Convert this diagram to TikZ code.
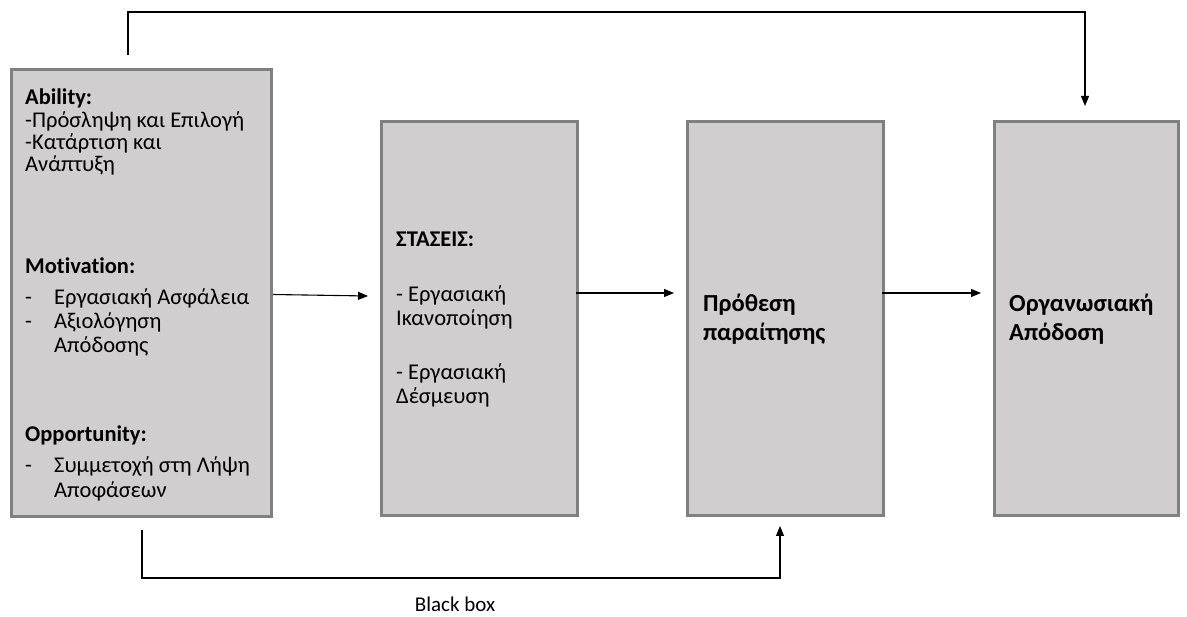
\documentclass[tikz,border=0pt]{standalone}
\usepackage{fontspec}
\setmainfont{Carlito}[Ligatures=NoCommon]
\usetikzlibrary{arrows.meta}
\definecolor{boxfill}{HTML}{D0CECE}
\definecolor{boxline}{HTML}{808080}
\tikzset{
  box/.style={draw=boxline, fill=boxfill, line width=3pt, anchor=north west, inner sep=0pt},
  txt/.style={anchor=base west, inner sep=0pt, font=\fontsize{22.5}{27}\selectfont},
  btxt/.style={anchor=base west, inner sep=0pt, font=\fontsize{24.5}{29}\selectfont\bfseries},
  conn/.style={line width=1.1pt, draw=black},
  arr/.style={conn, -{Triangle[length=10pt,width=8pt]}}
}
\begin{document}
\begin{tikzpicture}[x=1pt,y=-1pt]
\useasboundingbox (0,0) rectangle (1187,617);
% boxes
\node[box, minimum width=260, minimum height=447] (b1) at (10,68) {};
\node[box, minimum width=196, minimum height=394] (b2) at (380,120) {};
\node[box, minimum width=196, minimum height=394] (b3) at (686,120) {};
\node[box, minimum width=184, minimum height=394] (b4) at (993,120) {};
% box 1 text
\node[txt] (t1) at (25,105) {\bfseries Ability:};
\node[txt] (t2) at (25,128) {-Πρόσληψη και Επιλογή};
\node[txt] (t3) at (25,150) {-Κατάρτιση και};
\node[txt] (t4) at (25,172) {Ανάπτυξη};
\node[txt] (t5) at (25,274) {\bfseries Motivation:};
\node[txt] (t6a) at (25,305) {-};
\node[txt] (t6) at (54,305) {Εργασιακή Ασφάλεια};
\node[txt] (t7a) at (25,329) {-};
\node[txt] (t7) at (54,329) {Αξιολόγηση};
\node[txt] (t8) at (54,353) {Απόδοσης};
\node[txt] (t9) at (25,442) {\bfseries Opportunity:};
\node[txt] (t10a) at (25,473) {-};
\node[txt] (t10) at (54,473) {Συμμετοχή στη Λήψη};
\node[txt] (t11) at (54,498) {Αποφάσεων};
% box 2 text
\node[txt] (s1) at (396,247) {\bfseries ΣΤΑΣΕΙΣ:};
\node[txt] (s2) at (396,302) {- Εργασιακή};
\node[txt] (s3) at (396,326) {Ικανοποίηση};
\node[txt] (s4) at (396,380) {- Εργασιακή};
\node[txt] (s5) at (396,404) {Δέσμευση};
% box 3 text
\node[btxt] (p1) at (703,312) {Πρόθεση};
\node[btxt] (p2) at (703,341) {παραίτησης};
% box 4 text
\node[btxt] (o1) at (1009,312) {Οργανωσιακή};
\node[btxt] (o2) at (1009,341) {Απόδοση};
% black box label
\node[inner sep=0pt, font=\fontsize{21}{25}\selectfont] (bb) at (455,604) {Black box};
% horizontal arrows
\coordinate (e12) at (368,296);
\coordinate (s23) at (576,293);
\coordinate (e23) at (674,293);
\coordinate (s34) at (882,293);
\coordinate (e34) at (981,293);
\draw[arr] ([yshift=-1.5]b1.east) -- (e12);
\draw[arr] (s23) -- (e23);
\draw[arr] (s34) -- (e34);
% top connector
\coordinate (tA) at (128,55);
\coordinate (tB) at (128,12);
\coordinate (tC) at (1085,12);
\coordinate (tD) at (1085,106);
\draw[arr] (tA) -- (tB) -- (tC) -- (tD);
% bottom connector
\coordinate (uA) at (142,530);
\coordinate (uB) at (142,578);
\coordinate (uC) at (780,578);
\coordinate (uD) at (780,526);
\draw[arr] (uA) -- (uB) -- (uC) -- (uD);
\end{tikzpicture}
\end{document}
